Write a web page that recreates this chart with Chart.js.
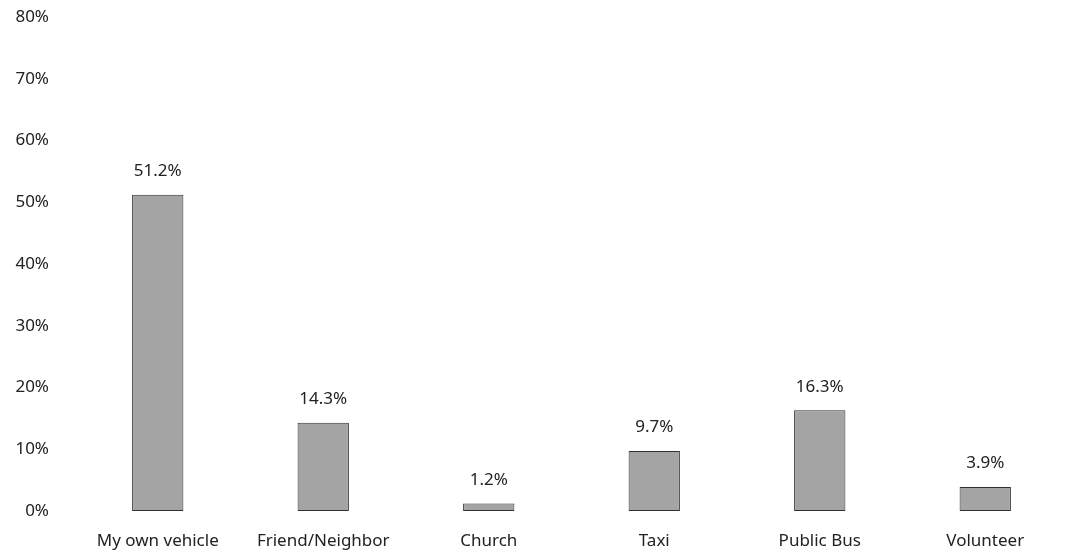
<!DOCTYPE html>
<html>
<head>
<meta charset="utf-8">
<script src="https://cdn.jsdelivr.net/npm/chart.js@4.4.0/dist/chart.umd.min.js"></script>
<style>
  html, body { margin: 0; padding: 0; background: #fff; }
  #wrap { width: 1068px; height: 557px; }
</style>
</head>
<body>
<div id="wrap"><canvas id="chart"></canvas></div>
<script>
// DATA
var categories = ["My own vehicle", "Friend/Neighbor", "Church", "Taxi", "Public Bus", "Volunteer"];
var shares = [51.2, 14.3, 1.2, 9.7, 16.3, 3.9];
var yTicks = [0, 10, 20, 30, 40, 50, 60, 70, 80];

// value labels above each bar
var barLabels = {
  id: "barLabels",
  afterDatasetsDraw: function (chart) {
    var ctx = chart.ctx;
    var meta = chart.getDatasetMeta(0);
    ctx.save();
    ctx.font = "17px 'Noto Sans'";
    ctx.fillStyle = "#222";
    ctx.textAlign = "center";
    ctx.textBaseline = "bottom";
    meta.data.forEach(function (bar, i) {
      ctx.fillText(shares[i].toFixed(1) + "%", bar.x, bar.y - 15);
    });
    ctx.restore();
  }
};

var config = {
  type: "bar",
  data: {
    labels: categories,
    datasets: [
      {
        data: shares,
        backgroundColor: "#a4a4a4",
        borderColor: "#303030",
        borderWidth: 1,
        borderSkipped: false,
        barPercentage: 0.31,
        categoryPercentage: 1
      }
    ]
  },
  options: {
    responsive: true,
    maintainAspectRatio: false,
    animation: false,
    layout: { padding: { top: 17, right: 0, bottom: 0, left: 0 } },
    plugins: {
      legend: { display: false },
      tooltip: { enabled: false }
    },
    scales: {
      x: {
        afterFit: function (axis) { axis.height = 46; },
        grid: { display: false },
        border: { display: false },
        ticks: {
          color: "#222",
          font: { family: "Noto Sans", size: 17, lineHeight: 1 },
          padding: 14,
          maxRotation: 0
        }
      },
      y: {
        min: 0,
        max: 80,
        afterBuildTicks: function (axis) {
          axis.ticks = yTicks.map(function (v) { return { value: v }; });
        },
        afterFit: function (axis) {
          axis.width = 75;
          axis.paddingTop = 0;
          axis.paddingBottom = 0;
        },
        grid: { display: false },
        border: { display: false },
        ticks: {
          color: "#222",
          font: { family: "Noto Sans", size: 17 },
          padding: 18,
          callback: function (v) { return v + "%"; }
        }
      }
    }
  },
  plugins: [barLabels]
};

window.onload = function () {
  var ctx = document.getElementById("chart").getContext("2d");
  window.myBar = new Chart(ctx, config);
};
</script>
</body>
</html>
